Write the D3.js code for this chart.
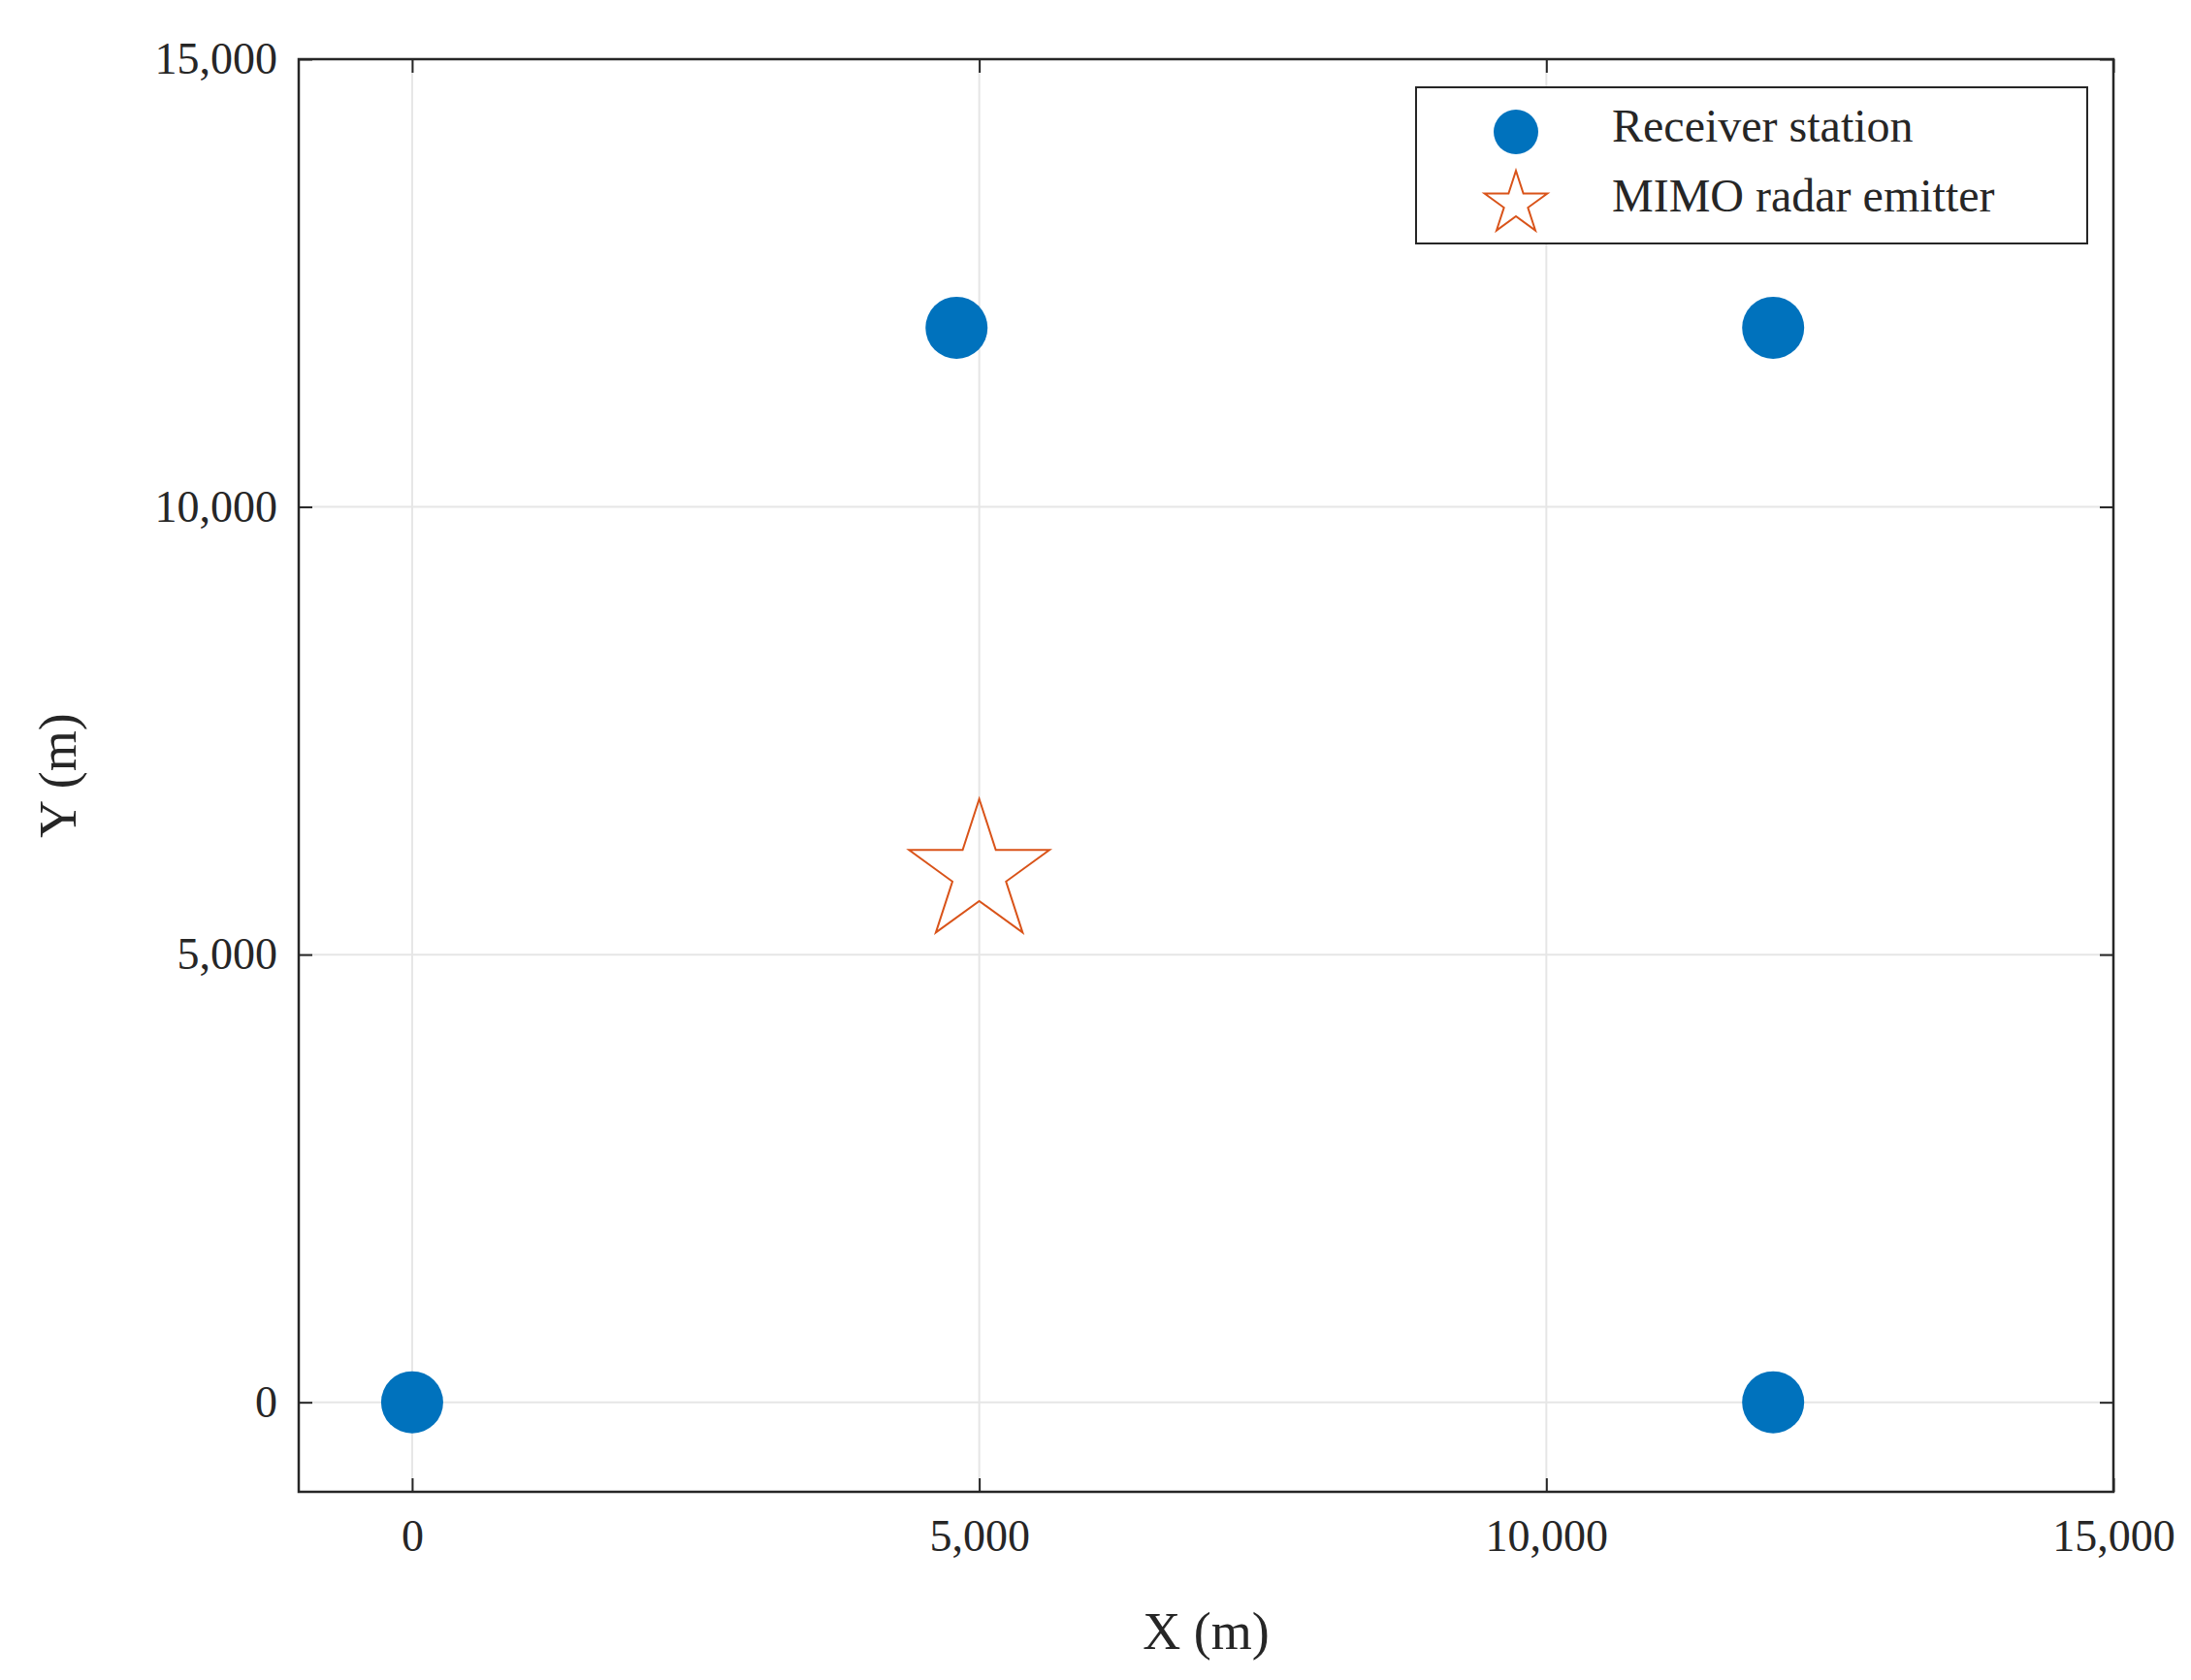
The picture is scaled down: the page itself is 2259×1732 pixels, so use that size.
<!DOCTYPE html>
<html><head><meta charset="utf-8">
<script src="https://cdn.jsdelivr.net/npm/d3@7"></script>
<style>body{margin:0;background:#fff}text{font-family:"Liberation Serif","DejaVu Serif",serif;fill:#262626}</style>
</head><body>
<script>
const receivers = [[0, 0], [4800, 12000], [12000, 12000], [12000, 0]];
const emitter = [[5000, 6000]];
const xTicks = [0, 5000, 10000, 15000];
const yTicks = [0, 5000, 10000, 15000];
const legendLabels = ["Receiver station", "MIMO radar emitter"];

const W = 2259, H = 1732;
const m = {l: 308, r: 2179, t: 61, b: 1538};
const svg = d3.select("body").append("svg").attr("width", W).attr("height", H);
const x = d3.scaleLinear().domain([-1000, 15000]).range([m.l, m.r]);
const y = d3.scaleLinear().domain([-1000, 15000]).range([m.b, m.t]);
const fmt = d3.format(",");

// grid
svg.append("g").selectAll("line").data(xTicks).join("line")
  .attr("x1", d => x(d)).attr("x2", d => x(d)).attr("y1", m.t).attr("y2", m.b)
  .attr("stroke", "#e6e6e6").attr("stroke-width", 2);
svg.append("g").selectAll("line").data(yTicks).join("line")
  .attr("y1", d => y(d)).attr("y2", d => y(d)).attr("x1", m.l).attr("x2", m.r)
  .attr("stroke", "#e6e6e6").attr("stroke-width", 2);

// axes
const ax = (g, a) => { g.call(a); g.select(".domain").remove();
  g.selectAll("line").attr("stroke", "#262626").attr("stroke-width", 2);
  g.selectAll("text").attr("font-size", 46).attr("font-family", "Liberation Serif").attr("fill", "#262626"); };
svg.append("g").attr("transform", `translate(0,${m.b})`)
  .call(g => ax(g, d3.axisBottom(x).tickValues(xTicks).tickFormat(fmt).tickSize(-14).tickPadding(28)));
svg.append("g").attr("transform", `translate(0,${m.t})`)
  .call(g => { ax(g, d3.axisTop(x).tickValues(xTicks).tickSize(-14)); g.selectAll("text").remove(); });
svg.append("g").attr("transform", `translate(${m.l},0)`)
  .call(g => ax(g, d3.axisLeft(y).tickValues(yTicks).tickFormat(fmt).tickSize(-14).tickPadding(22)));
svg.append("g").attr("transform", `translate(${m.r},0)`)
  .call(g => { ax(g, d3.axisRight(y).tickValues(yTicks).tickSize(-14)); g.selectAll("text").remove(); });
svg.append("rect").attr("x", m.l).attr("y", m.t).attr("width", m.r - m.l).attr("height", m.b - m.t)
  .attr("fill", "none").attr("stroke", "#262626").attr("stroke-width", 2.5);

svg.append("text").attr("x", (m.l + m.r) / 2).attr("y", 1700).attr("text-anchor", "middle")
  .attr("font-size", 54).text("X (m)");
svg.append("text").attr("transform", `translate(78,${(m.t + m.b) / 2}) rotate(-90)`)
  .attr("text-anchor", "middle").attr("font-size", 54).text("Y (m)");

// marks
const blue = "#0072BD", orange = "#D95319";
svg.append("g").selectAll("circle").data(receivers).join("circle")
  .attr("cx", d => x(d[0])).attr("cy", d => y(d[1])).attr("r", 32).attr("fill", blue);
const star = d3.symbol().type(d3.symbolStar).size(6500);
svg.append("g").selectAll("path").data(emitter).join("path")
  .attr("transform", d => `translate(${x(d[0])},${y(d[1]) + 8})`).attr("d", star)
  .attr("fill", "none").attr("stroke", orange).attr("stroke-width", 2);

// legend
const lg = svg.append("g");
lg.append("rect").attr("x", 1460).attr("y", 90).attr("width", 692).attr("height", 161)
  .attr("fill", "#fff").attr("stroke", "#262626").attr("stroke-width", 2);
lg.append("circle").attr("cx", 1563).attr("cy", 136).attr("r", 23).attr("fill", blue);
lg.append("path").attr("transform", "translate(1563,210)")
  .attr("d", d3.symbol().type(d3.symbolStar).size(1300)).attr("fill", "none").attr("stroke", orange).attr("stroke-width", 2);
lg.selectAll("text").data(legendLabels).join("text")
  .attr("x", 1662).attr("y", (d, i) => 146 + i * 72).attr("font-size", 48).text(d => d);
</script>
</body></html>
